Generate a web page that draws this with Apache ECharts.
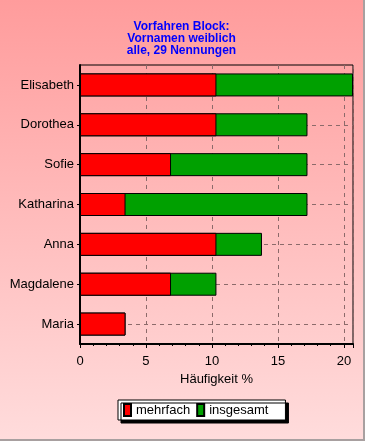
<!DOCTYPE html>
<html><head><meta charset="utf-8">
<script src="https://cdn.jsdelivr.net/npm/echarts@6/dist/echarts.min.js"></script>
<style>
html,body{margin:0;padding:0;}
#wrap{width:365px;height:441px;box-sizing:border-box;border-right:2px solid #a8a0a0;border-bottom:2px solid #a8a0a0;background:linear-gradient(#ff9c9c,#ffdcdc);}
#c{width:363px;height:439px;}
</style></head>
<body><div id="wrap"><div id="c"></div></div>
<script>
const titleLines = ['Vorfahren Block:', 'Vornamen weiblich', 'alle, 29 Nennungen'];
const categories = ['Elisabeth', 'Dorothea', 'Sofie', 'Katharina', 'Anna', 'Magdalene', 'Maria'];
const mehrfach = [10.34, 10.34, 6.90, 3.45, 10.34, 6.90, 3.45];
const insgesamt = [20.69, 17.24, 17.24, 17.24, 13.79, 10.34, 3.45];
const xTicks = [0, 5, 10, 15, 20];
const xName = 'Häufigkeit %';
const seriesNames = ['mehrfach', 'insgesamt'];

const font = 'Liberation Sans, Arial, sans-serif';
const chart = echarts.init(document.getElementById('c'), null, {renderer: 'canvas'});
chart.setOption({
  backgroundColor: 'transparent',
  animation: false,
  title: {
    text: titleLines.join('\n'),
    left: 'center', top: 21, padding: 0,
    textStyle: {color: '#0000ff', fontWeight: 'bold', fontSize: 12, fontFamily: font, lineHeight: 12}
  },
  legend: {
    data: seriesNames,
    left: 118, top: 400,
    padding: [3, 17, 3, 5],
    itemGap: 6, itemWidth: 7, itemHeight: 12,
    backgroundColor: '#ffffff', borderColor: '#000', borderWidth: 1,
    shadowColor: '#000', shadowOffsetX: 3, shadowOffsetY: 3, shadowBlur: 0,
    textStyle: {fontSize: 13, fontFamily: font, color: '#000'},
    icon: 'rect'
  },
  grid: {
    left: 80, right: 10, top: 65, bottom: 95,
    show: true, borderColor: '#000', borderWidth: 1, backgroundColor: 'transparent'
  },
  xAxis: {
    type: 'value', min: 0, max: 20.69, interval: 5,
    name: xName, nameLocation: 'middle', nameGap: 28,
    nameTextStyle: {fontSize: 13, fontFamily: font, color: '#000'},
    axisLine: {show: true, lineStyle: {color: '#000', width: 2}},
    axisTick: {show: true, length: 4, lineStyle: {color: '#000'}},
    minorTick: {show: true, splitNumber: 5, length: 2, lineStyle: {color: '#000'}},
    axisLabel: {
      fontSize: 13, fontFamily: font, color: '#000', margin: 11, showMaxLabel: false,
      formatter: v => xTicks.includes(v) ? String(v) : ''
    },
    splitLine: {show: true, lineStyle: {color: '#8c6a6a', type: [4, 4], width: 1}}
  },
  yAxis: {
    type: 'category', data: categories, inverse: true,
    axisLine: {show: true, lineStyle: {color: '#000', width: 2}},
    axisTick: {show: true, alignWithLabel: true, length: 3, lineStyle: {color: '#000'}},
    axisLabel: {fontSize: 13, fontFamily: font, color: '#000', margin: 6},
    splitLine: {show: true, alignWithLabel: true, lineStyle: {color: '#8c6a6a', type: [4, 4], width: 1}}
  },
  series: [
    {
      name: seriesNames[0], type: 'bar', data: mehrfach, barWidth: 23, barGap: '-100%', z: 4,
      itemStyle: {color: '#ff0000', borderColor: '#000', borderWidth: 1}
    },
    {
      name: seriesNames[1], type: 'bar', data: insgesamt, barWidth: 23, barGap: '-100%', z: 3,
      itemStyle: {color: '#00a000', borderColor: '#000', borderWidth: 1}
    }
  ]
});
</script></body></html>
